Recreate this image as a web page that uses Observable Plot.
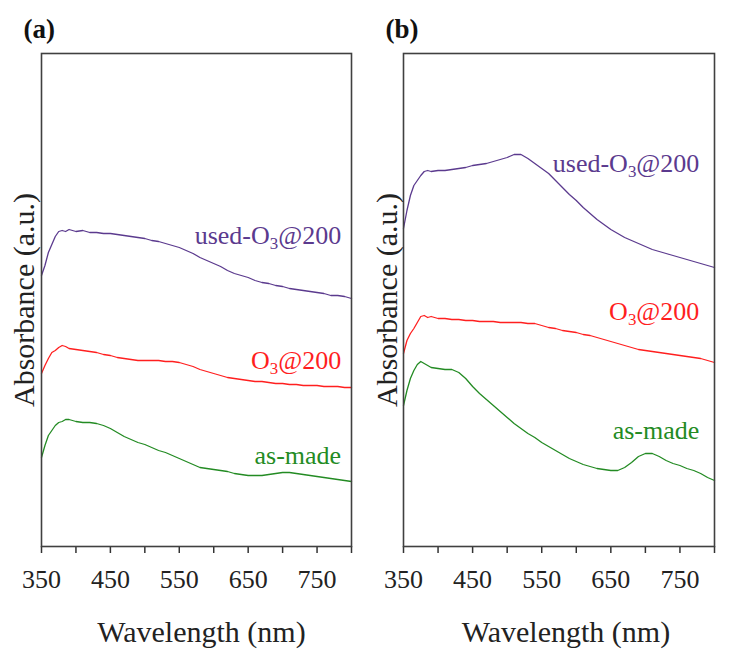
<!DOCTYPE html>
<html><head><meta charset="utf-8">
<script src="https://cdn.jsdelivr.net/npm/d3@7"></script>
<script src="https://cdn.jsdelivr.net/npm/@observablehq/plot@0.6"></script>
<style>
body{margin:0;background:#fff;}
#wrap{position:relative;width:730px;height:660px;background:#fff;}
#wrap svg{position:absolute;top:0;}
#wrap svg, #wrap svg text, #wrap svg tspan{font-family:"Liberation Serif",serif !important;}
</style></head><body><div id="wrap"></div>
<script>
// Wavelength (nm)
const wavelength = [350,355,360,365,370,375,380,385,390,400,410,420,430,440,450,460,470,480,490,500,510,520,530,540,550,560,570,580,590,600,610,620,630,640,650,660,670,680,690,700,710,720,730,740,750,760,770,780,790,800];

// Panel (a) absorbance (a.u., offset stacked)
const usedA  = [2.71,2.81,2.94,3.02,3.10,3.15,3.16,3.15,3.17,3.15,3.16,3.14,3.14,3.13,3.13,3.12,3.11,3.10,3.09,3.08,3.06,3.05,3.03,3.01,2.99,2.96,2.93,2.89,2.86,2.83,2.80,2.76,2.73,2.71,2.69,2.66,2.64,2.63,2.61,2.60,2.58,2.57,2.56,2.55,2.54,2.53,2.51,2.51,2.50,2.48];
const o3A    = [1.73,1.81,1.88,1.94,1.96,1.99,2.01,2.00,1.98,1.97,1.96,1.95,1.94,1.92,1.91,1.89,1.88,1.87,1.86,1.86,1.86,1.86,1.85,1.85,1.84,1.82,1.80,1.77,1.75,1.73,1.71,1.69,1.68,1.67,1.66,1.65,1.65,1.64,1.63,1.63,1.62,1.62,1.61,1.61,1.61,1.60,1.60,1.60,1.59,1.59];
const asMadeA= [0.89,1.01,1.11,1.16,1.21,1.24,1.25,1.27,1.27,1.25,1.24,1.24,1.23,1.21,1.18,1.14,1.10,1.07,1.04,1.02,0.99,0.96,0.94,0.91,0.88,0.85,0.82,0.79,0.78,0.77,0.76,0.75,0.73,0.72,0.71,0.71,0.71,0.72,0.73,0.74,0.74,0.73,0.72,0.71,0.70,0.69,0.68,0.67,0.66,0.65];

// Panel (b)
const usedB  = [3.18,3.36,3.51,3.61,3.66,3.71,3.75,3.76,3.75,3.76,3.76,3.77,3.78,3.79,3.81,3.82,3.83,3.85,3.87,3.89,3.92,3.92,3.88,3.83,3.78,3.73,3.66,3.59,3.52,3.46,3.39,3.33,3.27,3.22,3.17,3.13,3.09,3.06,3.03,3.00,2.97,2.95,2.93,2.91,2.89,2.87,2.85,2.83,2.81,2.79];
const o3B    = [1.93,2.06,2.13,2.18,2.24,2.30,2.31,2.29,2.30,2.28,2.28,2.27,2.27,2.26,2.26,2.25,2.25,2.25,2.24,2.24,2.24,2.24,2.23,2.23,2.21,2.19,2.18,2.16,2.15,2.14,2.12,2.11,2.09,2.07,2.05,2.03,2.01,1.99,1.97,1.96,1.95,1.94,1.93,1.92,1.91,1.90,1.89,1.88,1.86,1.84];
const asMadeB= [1.41,1.56,1.68,1.76,1.82,1.85,1.83,1.81,1.79,1.78,1.77,1.77,1.74,1.68,1.60,1.53,1.47,1.41,1.35,1.29,1.23,1.18,1.13,1.09,1.04,1.00,0.96,0.92,0.88,0.85,0.82,0.80,0.78,0.77,0.76,0.76,0.79,0.84,0.90,0.93,0.93,0.90,0.86,0.83,0.81,0.78,0.76,0.73,0.69,0.66];

const seriesNames = ["used-O3@200", "O3@200", "as-made"];
const seriesColors = ["#5b3a8e", "#ff1f1f", "#238b23"];
const labelAbsA = [3.11, 1.86, 0.91];
const labelAbsB = [3.83, 2.35, 1.16];
const labelWlA = 785, labelWlB = 778;
const tickValues = [350,400,450,500,550,600,650,700,750,800];
const tickLabels = [350,450,550,650,750];
const xDomain = [350, 800];
const yDomain = [0, 4.93];
const FONT = "Liberation Serif";

function makePanel(title, series, labelAbs, labelWl, ml, mr, yLabelDx, xLabelDx) {
  const rows = [];
  series.forEach((vals, si) => vals.forEach((v, i) => rows.push({wl: wavelength[i], a: v, s: seriesNames[si]})));
  const labels = seriesNames.map((n, i) => ({text: n, wl: labelWl, a: labelAbs[i], s: n}));
  const svg = Plot.plot({
    width: 365, height: 660,
    marginLeft: ml, marginRight: mr, marginTop: 53, marginBottom: 114,
    style: {fontFamily: FONT, background: "#fff", color: "#222"},
    x: {domain: xDomain},
    y: {domain: yDomain, axis: null},
    color: {domain: seriesNames, range: seriesColors},
    marks: [
      Plot.line(rows, {x: "wl", y: "a", z: "s", stroke: "s", strokeWidth: 1.3}),
      Plot.text(labels, {x: "wl", y: "a", text: "text", fill: "s", textAnchor: "end", lineAnchor: "middle", fontSize: 26, fontFamily: FONT}),
      Plot.axisX({ticks: tickValues, tickFormat: () => "", tickSize: 7, stroke: "#333", strokeWidth: 1.5, label: null}),
      Plot.axisX({ticks: tickLabels, tickSize: 0, tickPadding: 23, fontSize: 26, fontFamily: FONT, fill: "#222", label: null}),
      Plot.frame({stroke: "#404040", strokeWidth: 1.6}),
      Plot.text([title], {frameAnchor: "top-left", dx: -18, dy: -16, text: d => d, textAnchor: "start", lineAnchor: "bottom", fontSize: 27, fontWeight: "bold", fontFamily: FONT, fill: "#111"}),
      Plot.text(["Absorbance (a.u.)"], {frameAnchor: "left", dx: yLabelDx, rotate: -90, text: d => d, textAnchor: "middle", lineAnchor: "middle", fontSize: 30, fontFamily: FONT, fill: "#222"}),
      Plot.text(["Wavelength (nm)"], {frameAnchor: "bottom", dx: xLabelDx, dy: 86, text: d => d, textAnchor: "middle", lineAnchor: "middle", fontSize: 30, fontFamily: FONT, fill: "#222"})
    ]
  });
  const s0 = d3.select(svg);
  s0.attr("font-family", FONT);
  s0.selectAll("g").filter(function() { return this.hasAttribute("font-family"); }).attr("font-family", FONT);
  s0.selectAll("text").attr("font-family", FONT).style("font-family", FONT);
  s0.selectAll("text").each(function() {
    const t = this.textContent;
    if (t.includes("O3@")) {
      const parts = t.split("O3");
      const s = d3.select(this);
      s.text(null);
      s.append("tspan").text(parts[0] + "O");
      s.append("tspan").attr("font-size", "0.65em").attr("dy", "5").text("3");
      s.append("tspan").attr("dy", "-5").text(parts[1]);
    }
  });
  return svg;
}

const wrap = document.getElementById("wrap");
const a = makePanel("(a)", [usedA, o3A, asMadeA], labelAbsA, labelWlA, 41, 14, -17, 5);
a.style.left = "0px";
const b = makePanel("(b)", [usedB, o3B, asMadeB], labelAbsB, labelWlB, 38, 16, -16, 7);
b.style.left = "365px";
wrap.appendChild(a);
wrap.appendChild(b);
</script>
</body></html>
